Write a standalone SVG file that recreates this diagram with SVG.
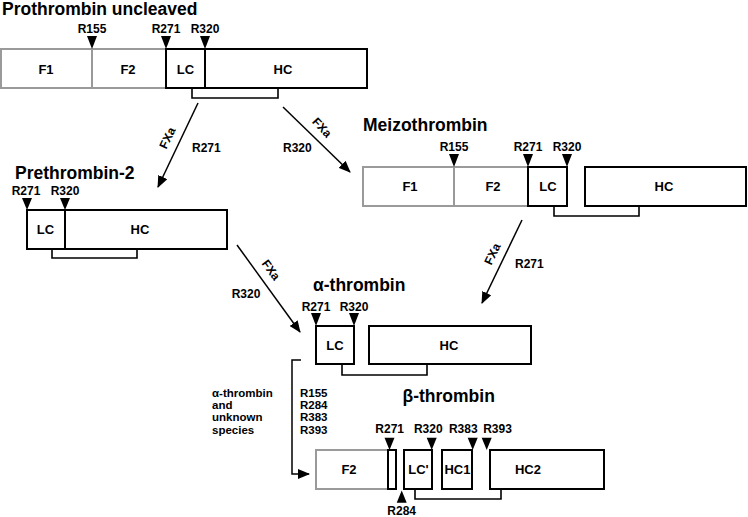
<svg xmlns="http://www.w3.org/2000/svg" width="748" height="517" viewBox="0 0 748 517">
<defs>
<style>
text{font-family:"Liberation Sans",Arial,sans-serif;font-weight:bold;fill:#000}
.title{font-size:17.5px}
.lbl{font-size:13px;text-anchor:middle}
.site{font-size:12px;text-anchor:middle}
.edge{font-size:12px}
.col{font-size:11.5px}
.box{fill:#fff;stroke:#000;stroke-width:2}
.gbox{fill:#fff;stroke:#9a9a9a;stroke-width:2}
.br{fill:none;stroke:#000;stroke-width:1.6}
.tri{fill:#000}
.arr{fill:none;stroke:#000;stroke-width:1.5;marker-end:url(#ah)}
</style>
<marker id="ah" viewBox="0 0 12 10" refX="11" refY="5" markerWidth="12" markerHeight="10" markerUnits="userSpaceOnUse" orient="auto"><path d="M0,0 L12,5 L0,10 z" fill="#000"/></marker>
</defs>
<rect width="748" height="517" fill="#fff"/>

<g id="prothrombin">
<text class="title" x="2" y="15">Prothrombin uncleaved</text>
<rect class="gbox" x="1" y="49" width="91" height="39"/>
<rect class="gbox" x="92" y="49" width="74" height="39"/>
<rect class="box" x="166" y="49" width="39" height="39"/>
<rect class="box" x="205" y="49" width="162" height="39"/>
<path class="br" d="M192,88 V98 H278 V88"/>
<text class="lbl" x="46" y="73.5">F1</text>
<text class="lbl" x="128" y="73.5">F2</text>
<text class="lbl" x="185.5" y="73.5">LC</text>
<text class="lbl" x="283" y="73.5">HC</text>
<polygon class="tri" points="87,36 97,36 92,49"/>
<polygon class="tri" points="161,36 171,36 166,49"/>
<polygon class="tri" points="200,36 210,36 205,49"/>
<text class="site" x="92" y="33">R155</text>
<text class="site" x="166" y="33">R271</text>
<text class="site" x="205" y="33">R320</text>
</g>

<g id="meizothrombin">
<text class="title" x="363" y="130.7">Meizothrombin</text>
<rect class="gbox" x="363" y="167" width="91" height="39"/>
<rect class="gbox" x="454" y="167" width="74" height="39"/>
<rect class="box" x="528" y="167" width="39" height="39"/>
<rect class="box" x="585" y="167" width="161" height="39"/>
<path class="br" d="M554,206 V216 H639 V206"/>
<text class="lbl" x="410" y="191">F1</text>
<text class="lbl" x="493" y="191">F2</text>
<text class="lbl" x="548" y="191">LC</text>
<text class="lbl" x="664" y="191">HC</text>
<polygon class="tri" points="449,154 459,154 454,167"/>
<polygon class="tri" points="523,154 533,154 528,167"/>
<polygon class="tri" points="562,154 572,154 567,167"/>
<text class="site" x="454" y="150.7">R155</text>
<text class="site" x="528" y="150.7">R271</text>
<text class="site" x="567" y="150.7">R320</text>
</g>

<g id="prethrombin-2">
<text class="title" x="15" y="179">Prethrombin-2</text>
<rect class="box" x="27" y="210" width="38" height="39"/>
<rect class="box" x="65" y="210" width="162" height="39"/>
<path class="br" d="M52,249 V258 H137 V249"/>
<text class="lbl" x="45.5" y="234">LC</text>
<text class="lbl" x="140" y="234">HC</text>
<polygon class="tri" points="22,198 32,198 27,210"/>
<polygon class="tri" points="60,198 70,198 65,210"/>
<text class="site" x="26" y="195">R271</text>
<text class="site" x="65" y="195">R320</text>
</g>

<g id="alpha-thrombin">
<text class="title" x="313" y="291">α-thrombin</text>
<rect class="box" x="316" y="326" width="38" height="38"/>
<rect class="box" x="369" y="326" width="162" height="38"/>
<path class="br" d="M342,364 V375 H427 V364"/>
<text class="lbl" x="335" y="349.7">LC</text>
<text class="lbl" x="449" y="349.7">HC</text>
<polygon class="tri" points="311,313 321,313 316,326"/>
<polygon class="tri" points="349,313 359,313 354,326"/>
<text class="site" x="316" y="311">R271</text>
<text class="site" x="354" y="311">R320</text>
</g>

<g id="beta-thrombin">
<text class="title" x="402.5" y="402.3">β-thrombin</text>
<rect class="gbox" x="316" y="450" width="72" height="39"/>
<rect class="box" x="388" y="450" width="8" height="39"/>
<rect class="box" x="404" y="450" width="28" height="39"/>
<rect class="box" x="442" y="450" width="30" height="39"/>
<rect class="box" x="490" y="450" width="114" height="39"/>
<path class="br" d="M415,489 V499 H501 V489"/>
<text class="lbl" x="349" y="474">F2</text>
<text class="lbl" x="418.5" y="474">LC'</text>
<text class="lbl" x="457.5" y="474">HC1</text>
<text class="lbl" x="528" y="474">HC2</text>
<polygon class="tri" points="384.5,437.7 394.5,437.7 389.5,450"/>
<polygon class="tri" points="426.7,437.7 436.7,437.7 431.7,450"/>
<polygon class="tri" points="467.7,437.7 477.7,437.7 472.7,450"/>
<polygon class="tri" points="481.7,437.7 491.7,437.7 486.7,450"/>
<polygon class="tri" points="396.7,502.7 406.7,502.7 401.7,490.5"/>
<text class="site" x="389.7" y="433.3">R271</text>
<text class="site" x="428.3" y="433.3">R320</text>
<text class="site" x="463.3" y="433.3">R383</text>
<text class="site" x="497.5" y="433.3">R393</text>
<text class="site" x="401.7" y="515">R284</text>
</g>

<g id="connectors">
<line class="arr" x1="198" y1="103" x2="158" y2="187"/>
<line class="arr" x1="283" y1="107" x2="350" y2="172"/>
<line class="arr" x1="237" y1="245" x2="300" y2="332"/>
<line class="arr" x1="522" y1="220" x2="482" y2="303"/>
<path class="arr" d="M301,360 H292 V474 H309"/>
</g>

<g id="connector-labels">
<text class="edge" text-anchor="middle" transform="translate(167.5,138) rotate(-64)" y="4">FXa</text>
<text class="edge" x="192" y="152">R271</text>
<text class="edge" text-anchor="middle" transform="translate(322,127.5) rotate(47)" y="4">FXa</text>
<text class="edge" x="283" y="152">R320</text>
<text class="edge" text-anchor="middle" transform="translate(271,270) rotate(54)" y="4">FXa</text>
<text class="edge" x="231.7" y="298.3">R320</text>
<text class="edge" text-anchor="middle" transform="translate(492.5,254) rotate(-64)" y="4">FXa</text>
<text class="edge" x="515" y="268.3">R271</text>
<text class="col" x="212" y="396.7">α-thrombin</text>
<text class="col" x="212" y="409">and</text>
<text class="col" x="212" y="421.3">unknown</text>
<text class="col" x="212" y="433.6">species</text>
<text class="col" x="300" y="396.7">R155</text>
<text class="col" x="300" y="409">R284</text>
<text class="col" x="300" y="421.3">R383</text>
<text class="col" x="300" y="433.6">R393</text>
</g>
</svg>
